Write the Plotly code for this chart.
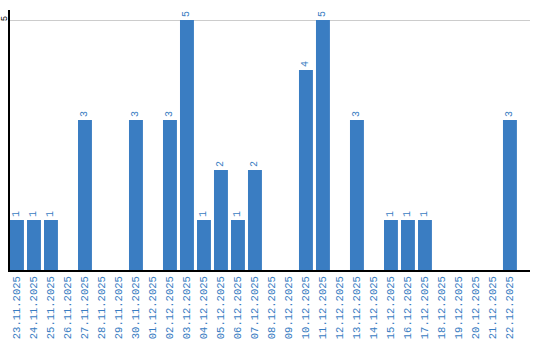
import plotly.graph_objects as go

dates = ["23.11.2025", "24.11.2025", "25.11.2025", "26.11.2025", "27.11.2025",
         "28.11.2025", "29.11.2025", "30.11.2025", "01.12.2025", "02.12.2025",
         "03.12.2025", "04.12.2025", "05.12.2025", "06.12.2025", "07.12.2025",
         "08.12.2025", "09.12.2025", "10.12.2025", "11.12.2025", "12.12.2025",
         "13.12.2025", "14.12.2025", "15.12.2025", "16.12.2025", "17.12.2025",
         "18.12.2025", "19.12.2025", "20.12.2025", "21.12.2025", "22.12.2025"]
counts = [1, 1, 1, 0, 3, 0, 0, 3, 0, 3,
          5, 1, 2, 1, 2, 0, 0, 4, 5, 0,
          3, 0, 1, 1, 1, 0, 0, 0, 0, 3]
y_ticks = [5]

BLUE = "#3a7dc2"
FONT = "Liberation Mono"
labels = [str(v) if v > 0 else "" for v in counts]

fig = go.Figure(go.Bar(
    x=dates, y=counts, marker_color=BLUE, marker_line_width=0,
    text=labels, textposition="outside", textangle=-90,
    textfont=dict(family=FONT, size=10, color=BLUE),
    cliponaxis=False, width=0.82,
))

fig.update_layout(
    width=540, height=340,
    margin=dict(l=10, r=10, t=10, b=70),
    paper_bgcolor="white", plot_bgcolor="white",
    showlegend=False,
    xaxis=dict(
        type="category", tickangle=-90, showgrid=False, automargin=False,
        tickfont=dict(family=FONT, size=10.5, color=BLUE),
        showline=True, linecolor="black", linewidth=2,
        ticks="", range=[-0.41, 30.18],
    ),
    yaxis=dict(
        range=[0, 5.2], tickvals=y_ticks, showgrid=True, gridcolor="#cccccc",
        gridwidth=1, zeroline=False, showline=True, linecolor="black",
        linewidth=2, tickangle=-90, ticks="", automargin=False,
        ticklabelstandoff=-3,
        tickfont=dict(family=FONT, size=9, color="black"),
    ),
    uniformtext=dict(minsize=6, mode="show"),
)

fig.write_html("out.html")
